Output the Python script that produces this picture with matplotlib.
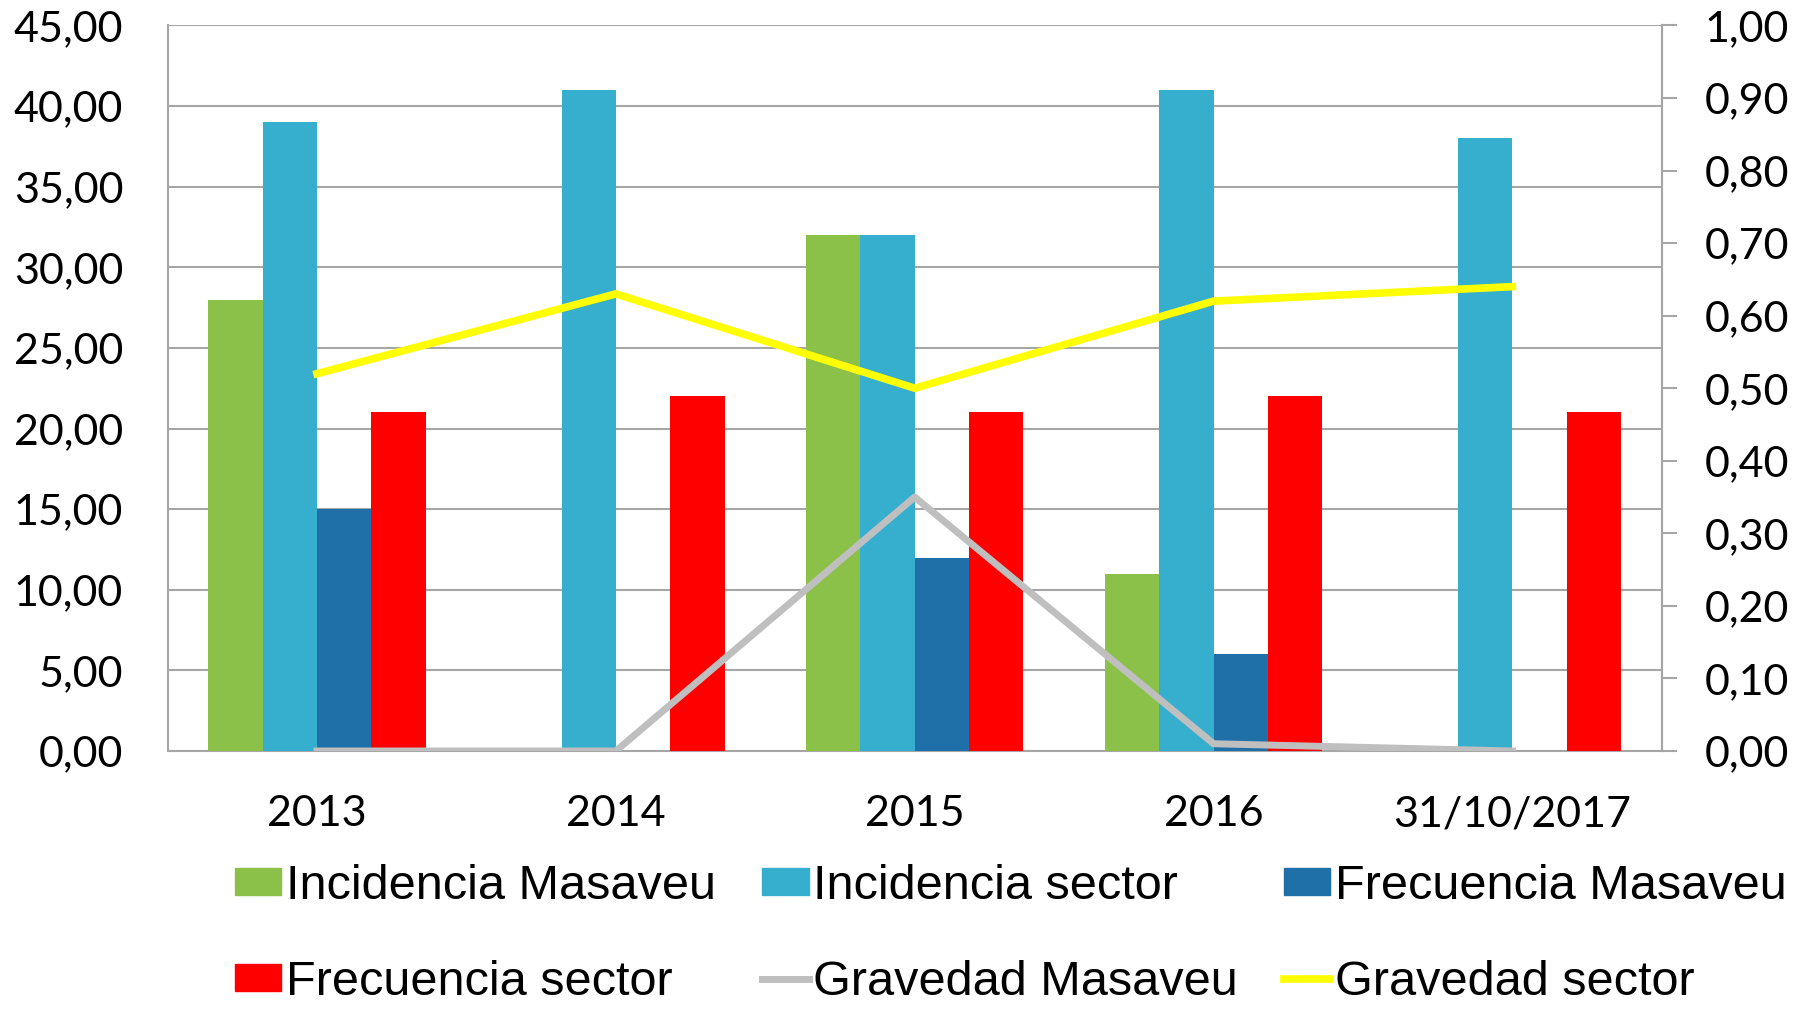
import matplotlib
matplotlib.use("Agg")
import matplotlib.pyplot as plt
import numpy as np
from matplotlib.ticker import FuncFormatter, MultipleLocator
from matplotlib.patches import Patch
from matplotlib.lines import Line2D

categories = ["2013", "2014", "2015", "2016", "31/10/2017"]
incidencia_masaveu = [28, 0, 32, 11, 0]
incidencia_sector = [39, 41, 32, 41, 38]
frecuencia_masaveu = [15, 0, 12, 6, 0]
frecuencia_sector = [21, 22, 21, 22, 21]
gravedad_masaveu = [0.00, 0.00, 0.35, 0.01, 0.00]
gravedad_sector = [0.52, 0.63, 0.50, 0.62, 0.64]

c_green = "#8BC148"
c_lblue = "#36AECE"
c_dblue = "#1F6FA8"
c_red = "#FF0000"
c_gray = "#BFBFBF"
c_yellow = "#FFFF00"
grid_c = "#A6A6A6"

tick_font = "Lato"
leg_font = "Liberation Sans"

fig = plt.figure(figsize=(18.12, 10.09), dpi=100)
ax = fig.add_axes([0.0925, 0.2557, 0.8246, 0.7191])

x = np.arange(len(categories))
w = 1 / 5.5
bars = [
    (incidencia_masaveu, c_green),
    (incidencia_sector, c_lblue),
    (frecuencia_masaveu, c_dblue),
    (frecuencia_sector, c_red),
]
for i, (vals, col) in enumerate(bars):
    ax.bar(x + (i - 1.5) * w, vals, w, color=col, zorder=3)

ax.set_xlim(-0.5, len(categories) - 0.5)
ax.set_ylim(0, 45)
ax.yaxis.set_major_locator(MultipleLocator(5))
fmt = FuncFormatter(lambda v, p: f"{v:.2f}".replace(".", ","))
ax.yaxis.set_major_formatter(fmt)
ax.grid(axis="y", color=grid_c, linewidth=1.5, zorder=0)
ax.set_xticks(x)
ax.set_xticklabels(categories)
ax.tick_params(axis="x", length=0, pad=32)
ax.tick_params(axis="y", length=0, pad=32)
for lab in ax.get_xticklabels() + ax.get_yticklabels():
    lab.set_fontfamily(tick_font)
    lab.set_fontsize(31)
for s in ["left", "bottom", "right"]:
    ax.spines[s].set_color(grid_c)
    ax.spines[s].set_linewidth(1.5)
ax.spines["top"].set_visible(False)

ax2 = ax.twinx()
ax2.plot(x, gravedad_masaveu, color=c_gray, linewidth=5, zorder=4)
ax2.plot(x, gravedad_sector, color=c_yellow, linewidth=5.5, zorder=5)
ax2.set_ylim(0, 1.0)
ax2.yaxis.set_major_locator(MultipleLocator(0.1))
ax2.yaxis.set_major_formatter(fmt)
ax2.tick_params(axis="y", length=11, width=1.5, color=grid_c, pad=20)
for lab in ax2.get_yticklabels():
    lab.set_fontfamily(tick_font)
    lab.set_fontsize(31)
for s in ["left", "bottom", "top"]:
    ax2.spines[s].set_visible(False)
ax2.spines["right"].set_color(grid_c)
ax2.spines["right"].set_linewidth(1.5)

h_im = Patch(color=c_green, label="Incidencia Masaveu")
h_is = Patch(color=c_lblue, label="Incidencia sector")
h_fm = Patch(color=c_dblue, label="Frecuencia Masaveu")
h_fs = Patch(color=c_red, label="Frecuencia sector")
h_gm = Line2D([], [], color=c_gray, linewidth=5, label="Gravedad Masaveu")
h_gs = Line2D([], [], color=c_yellow, linewidth=5.5, label="Gravedad sector")
handles = [h_im, h_fs, h_is, h_gm, h_fm, h_gs]
fig.legend(handles=handles, labels=[h.get_label() for h in handles],
           ncol=3, loc="center", bbox_to_anchor=(0.558, 0.074),
           frameon=False, prop={"family": leg_font, "size": 35},
           handlelength=0.95, handleheight=0.5, handletextpad=0.1,
           columnspacing=0.95, labelspacing=1.05, borderpad=0)

fig.savefig("out.png", dpi=100)
